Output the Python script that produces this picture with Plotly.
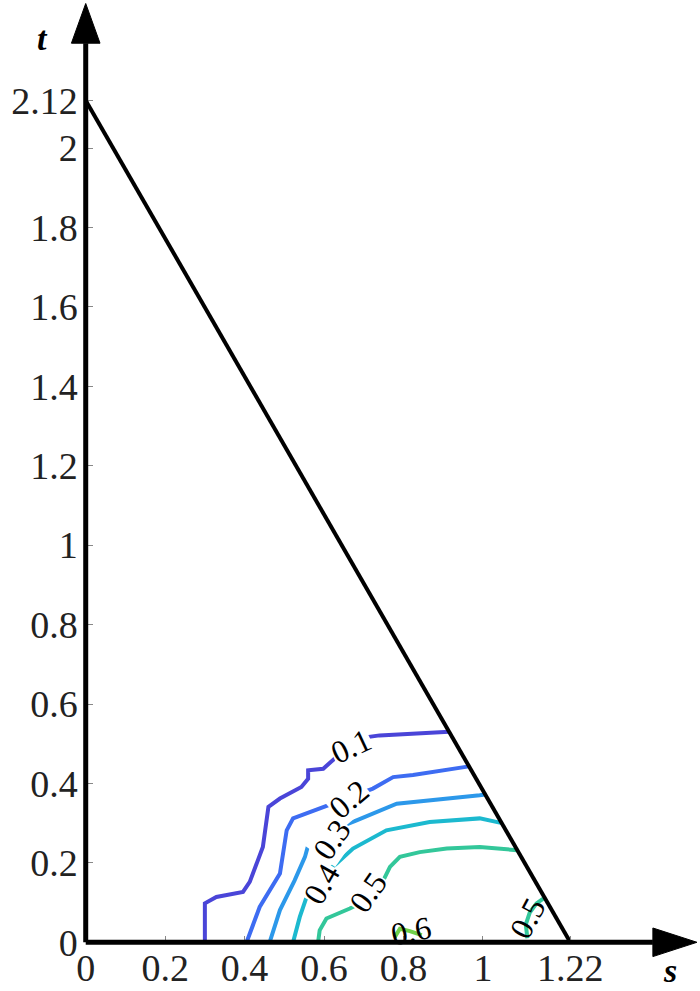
import plotly.graph_objects as go

# ---------------- data ----------------
x_tick_vals = [0, 0.2, 0.4, 0.6, 0.8, 1, 1.22]
x_tick_text = ["0", "0.2", "0.4", "0.6", "0.8", "1", "1.22"]
y_tick_vals = [0, 0.2, 0.4, 0.6, 0.8, 1, 1.2, 1.4, 1.6, 1.8, 2, 2.12]
y_tick_text = ["0", "0.2", "0.4", "0.6", "0.8", "1", "1.2", "1.4", "1.6", "1.8", "2", "2.12"]

tri_s = [0, 1.22]
tri_t = [2.12, 0]

c01_s = [0.300, 0.300, 0.329, 0.396, 0.413, 0.446, 0.460, 0.489, 0.543, 0.560, 0.560, 0.598, 0.627, 0.682, 0.740, 0.915]
c01_t = [0.000, 0.098, 0.114, 0.127, 0.152, 0.240, 0.341, 0.362, 0.391, 0.412, 0.433, 0.437, 0.463, 0.513, 0.521, 0.530]

c02_s = [0.405, 0.438, 0.489, 0.506, 0.522, 0.598, 0.673, 0.723, 0.774, 0.824, 0.965]
c02_t = [0.000, 0.089, 0.173, 0.282, 0.312, 0.341, 0.370, 0.387, 0.416, 0.421, 0.443]

c03_s = [0.463, 0.489, 0.526, 0.552, 0.560, 0.589, 0.682, 0.783, 0.992, 1.006]
c03_t = [0.000, 0.081, 0.156, 0.215, 0.244, 0.270, 0.307, 0.349, 0.370, 0.372]

c04_s = [0.522, 0.539, 0.556, 0.589, 0.631, 0.673, 0.757, 0.866, 0.992, 1.048]
c04_t = [0.000, 0.064, 0.114, 0.164, 0.198, 0.236, 0.282, 0.303, 0.312, 0.300]

c05a_s = [0.585, 0.589, 0.606, 0.665, 0.707, 0.741, 0.766, 0.791, 0.841, 0.909, 0.992, 1.086]
c05a_t = [0.000, 0.030, 0.060, 0.085, 0.106, 0.139, 0.190, 0.215, 0.227, 0.236, 0.240, 0.232]

c05b_s = [1.112, 1.108, 1.118, 1.135, 1.152]
c05b_t = [0.010, 0.045, 0.075, 0.098, 0.110]

c06_s = [0.778, 0.791, 0.816, 0.846]
c06_t = [0.013, 0.034, 0.028, 0.018]

label_text = ["0.1", "0.2", "0.3", "0.4", "0.5", "0.6", "0.5"]
label_s = [0.669, 0.663, 0.621, 0.594, 0.711, 0.818, 1.112]
label_t = [0.494, 0.360, 0.259, 0.146, 0.126, 0.028, 0.062]
label_angle = [-25, -40, -55, -60, -55, -12, -62]
label_masked = [True, True, True, True, True, False, False]

# ---------------- styling ----------------
colors = {
    "0.1": "#4a45d8",
    "0.2": "#3d6cf2",
    "0.3": "#2c98ea",
    "0.4": "#1cb9cf",
    "0.5": "#33c79a",
    "0.6": "#72d04a",
}

SERIF = "Liberation Serif, Times New Roman, DejaVu Serif, serif"
PX = 397.0          # pixels per data unit (both axes)
X0_PX, Y0_PX = 86.0, 942.0
W, H = 700, 991
xmin, ymin = -0.1, -0.1
l_m = X0_PX + xmin * PX
b_m = H - (Y0_PX - ymin * PX)
xmax = (W - X0_PX) / PX
ymax = Y0_PX / PX
plot_w = W - l_m
plot_h = H - b_m

fig = go.Figure()

contours = [
    (c01_s, c01_t, "0.1"),
    (c02_s, c02_t, "0.2"),
    (c03_s, c03_t, "0.3"),
    (c04_s, c04_t, "0.4"),
    (c05a_s, c05a_t, "0.5"),
    (c05b_s, c05b_t, "0.5"),
    (c06_s, c06_t, "0.6"),
]
for cs, ct, lv in contours:
    fig.add_trace(go.Scatter(x=cs, y=ct, mode="lines",
                             line=dict(color=colors[lv], width=4),
                             hoverinfo="skip", showlegend=False))

fig.add_trace(go.Scatter(x=tri_s, y=tri_t, mode="lines",
                         line=dict(color="black", width=4),
                         hoverinfo="skip", showlegend=False))

for txt, s, t, a, m in zip(label_text, label_s, label_t, label_angle, label_masked):
    fig.add_annotation(x=s, y=t, text=txt, showarrow=False, textangle=a,
                       xanchor="center", yanchor="middle",
                       font=dict(family=SERIF, size=32, color="black"),
                       bgcolor="white" if m else "rgba(0,0,0,0)", borderpad=0)

# axis lines & arrows
ax_w = 5
y_tip, y_base, hw = 2.364, 2.264, 0.036
x_tip, x_base = 1.539, 1.428
fig.add_shape(type="line", x0=0, y0=0, x1=0, y1=y_base, line=dict(color="black", width=ax_w))
fig.add_shape(type="line", x0=0, y0=0, x1=x_base, y1=0, line=dict(color="black", width=ax_w))
fig.add_shape(type="path",
              path=f"M {-hw} {y_base} L 0 {y_tip} L {hw} {y_base} Z",
              fillcolor="black", line=dict(color="black", width=1))
fig.add_shape(type="path",
              path=f"M {x_base} {-hw} L {x_tip} 0 L {x_base} {hw} Z",
              fillcolor="black", line=dict(color="black", width=1))

# axis name labels (paper coords so they are never hidden)
fig.add_annotation(xref="paper", yref="paper",
                   x=(43 - l_m) / plot_w, y=(H - b_m - 38) / plot_h,
                   xanchor="center", yanchor="middle",
                   text="<b><i>t</i></b>", showarrow=False,
                   font=dict(family=SERIF, size=34, color="black"))
fig.add_annotation(xref="paper", yref="paper",
                   x=(670 - l_m) / plot_w, y=(H - b_m - 970) / plot_h,
                   xanchor="center", yanchor="middle",
                   text="<b><i>s</i></b>", showarrow=False,
                   font=dict(family=SERIF, size=34, color="black"))

tickfont = dict(family=SERIF, size=38, color="#222")
fig.update_layout(
    width=W, height=H,
    margin=dict(l=l_m, r=0, t=0, b=b_m),
    plot_bgcolor="white", paper_bgcolor="white",
    showlegend=False,
    xaxis=dict(range=[xmin, xmax], showgrid=False, zeroline=False, showline=False,
               tickmode="array", tickvals=x_tick_vals, ticktext=x_tick_text,
               ticks="inside", ticklen=6, tickwidth=1, tickcolor="#888",
               tickfont=tickfont, anchor="free", position=(0 - ymin) / (ymax - ymin),
               ticklabelstandoff=0),
    yaxis=dict(range=[ymin, ymax], showgrid=False, zeroline=False, showline=False,
               tickmode="array", tickvals=y_tick_vals, ticktext=y_tick_text,
               ticks="inside", ticklen=6, tickwidth=1, tickcolor="#888",
               tickfont=tickfont, anchor="free", position=(0 - xmin) / (xmax - xmin),
               ticklabelstandoff=8),
)

fig.write_html("out.html", config={"displayModeBar": False},
               post_script="document.body.style.margin='0';")
